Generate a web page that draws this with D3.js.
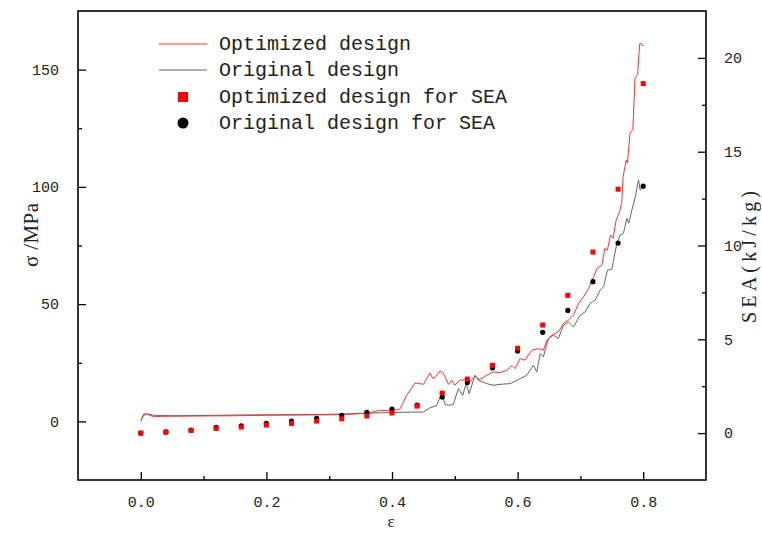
<!DOCTYPE html>
<html><head><meta charset="utf-8">
<script src="https://cdn.jsdelivr.net/npm/d3@7"></script>
<style>html,body{margin:0;padding:0;background:#fff;}</style>
</head><body>
<svg id="c" width="762" height="535"></svg>
<script>
// ---- data ----
const xTicks = [0, 0.2, 0.4, 0.6, 0.8];
const yLeftTicks = [0, 50, 100, 150];
const yRightTicks = [0, 5, 10, 15, 20];
const legendLabels = ["Optimized design", "Original design", "Optimized design for SEA", "Original design for SEA"];

const optStrain = [0,0.005,0.01,0.02,0.05,0.1,0.15,0.2,0.25,0.3,0.33,0.35,0.37,0.38,0.39,0.41,0.413,0.4234,0.4367,0.45,0.4606,0.465,0.47,0.4765,0.4818,0.49,0.495,0.5,0.508,0.516,0.524,0.532,0.54,0.551,0.561,0.572,0.583,0.591,0.596,0.604,0.612,0.6225,0.633,0.641,0.6465,0.6545,0.665,0.673,0.681,0.689,0.697,0.705,0.713,0.721,0.7265,0.734,0.739,0.743,0.748,0.752,0.757,0.7633,0.766,0.768,0.773,0.775,0.779,0.7835,0.787,0.791,0.7945,0.797,0.7995];
const optStress = [0.1,3.3,3.0,2.1,2.2,2.3,2.4,2.6,2.7,2.8,3.0,3.3,4.0,4.7,4.6,5.0,5.4,11.1,16.4,15.8,20.6,18.2,19.2,21.5,20.4,15.8,17.5,15.4,17.5,17.8,16.8,19.2,17.8,19.7,21.1,20.8,21.8,23.9,22.5,26.8,26.1,30.3,31.0,30.3,34.6,36.8,38.2,41.8,43.2,45.3,50.3,53.1,56.7,61.7,65.3,66.5,73.8,73.1,79.5,78.1,85.9,90.2,93.7,104.4,111.5,110.1,123.0,124.4,146.5,147.9,161.1,161.1,160.0];

const origStrain = [0,0.004,0.012,0.02,0.05,0.1,0.15,0.2,0.25,0.3,0.35,0.4,0.45,0.4606,0.471,0.479,0.4845,0.49,0.4977,0.5057,0.5126,0.518,0.523,0.532,0.5377,0.551,0.561,0.572,0.588,0.5935,0.604,0.6146,0.625,0.6306,0.6359,0.641,0.649,0.657,0.665,0.673,0.681,0.689,0.6996,0.7076,0.7155,0.7235,0.7315,0.737,0.743,0.75,0.758,0.7633,0.7686,0.774,0.777,0.782,0.787,0.7925,0.795,0.7995];
const origStress = [0.1,2.5,3.2,2.6,2.4,2.5,2.7,2.8,2.9,3.0,3.4,3.8,4.0,5.8,6.8,11.8,7.3,6.8,7.3,14.0,11.1,16.1,11.8,19.7,17.5,16.1,15.4,15.8,16.1,16.8,18.2,19.7,23.9,21.1,28.9,27.5,35.3,36.8,35.3,41.0,42.4,40.3,45.3,46.7,50.3,51.7,56.0,57.4,64.5,64.8,75.9,79.5,80.2,86.6,84.5,90.2,95.2,103.0,98.7,100.4];

const seaStrain = [0,0.04,0.08,0.12,0.16,0.2,0.24,0.28,0.32,0.36,0.4,0.44,0.48,0.52,0.56,0.6,0.64,0.68,0.72,0.76,0.8];
const seaOpt  = [0,0.05,0.14,0.25,0.32,0.43,0.52,0.64,0.76,0.91,1.07,1.44,2.13,2.88,3.61,4.52,5.76,7.34,9.65,13.0,18.63];
const seaOrig = [0,0.06,0.16,0.30,0.39,0.52,0.64,0.78,0.94,1.10,1.28,1.49,1.92,2.70,3.48,4.37,5.37,6.54,8.07,10.13,13.16];

// ---- layout ----
const L = 78, R = 706, T = 11, B = 480;
const svg = d3.select("#c");
const x = d3.scaleLinear().domain([-0.1, 0.9]).range([L, R]);
const yL = d3.scaleLinear().domain([-25, 175]).range([B, T]);
const yR = d3.scaleLinear().domain([-2.5, 22.5]).range([B, T]);
const tickFont = "'Liberation Mono', monospace";

// axes
function styleAxis(g){
  g.select(".domain").remove();
  g.selectAll("line").attr("stroke","#000").attr("stroke-width",1.3);
  g.selectAll("text").attr("font-family",tickFont).attr("font-size","15px").attr("fill","#222");
}
const xMinor = [0.1,0.3,0.5,0.7];
svg.append("g").attr("transform",`translate(0,${B})`)
  .call(d3.axisBottom(x).tickValues(xTicks).tickSizeInner(-8).tickSizeOuter(0).tickPadding(16).tickFormat(d3.format(".1f")))
  .call(styleAxis);
svg.append("g").attr("transform",`translate(0,${B})`)
  .call(d3.axisBottom(x).tickValues(xMinor).tickSizeInner(-4).tickSizeOuter(0).tickFormat(""))
  .call(styleAxis);
svg.append("g").attr("transform",`translate(${L},0)`)
  .call(d3.axisLeft(yL).tickValues(yLeftTicks).tickSizeInner(-8).tickSizeOuter(0).tickPadding(19))
  .call(styleAxis);
svg.append("g").attr("transform",`translate(${L},0)`)
  .call(d3.axisLeft(yL).tickValues([25,75,125]).tickSizeInner(-4).tickSizeOuter(0).tickFormat(""))
  .call(styleAxis);
svg.append("g").attr("transform",`translate(${R},0)`)
  .call(d3.axisRight(yR).tickValues(yRightTicks).tickSizeInner(-8).tickSizeOuter(0).tickPadding(18))
  .call(styleAxis);
svg.append("g").attr("transform",`translate(${R},0)`)
  .call(d3.axisRight(yR).tickValues([2.5,7.5,12.5,17.5]).tickSizeInner(-4).tickSizeOuter(0).tickFormat(""))
  .call(styleAxis);

// frame
svg.append("rect").attr("x",L).attr("y",T).attr("width",R-L).attr("height",B-T)
  .attr("fill","none").attr("stroke","#000").attr("stroke-width",1.6);

// lines
const line = d3.line().x(d=>x(d[0])).y(d=>yL(d[1]));
svg.append("path").datum(d3.zip(origStrain, origStress)).attr("d",line)
  .attr("fill","none").attr("stroke","#666").attr("stroke-width",1);
svg.append("path").datum(d3.zip(optStrain, optStress)).attr("d",line)
  .attr("fill","none").attr("stroke","#ff3030").attr("stroke-width",1);

// scatter
svg.append("g").selectAll("circle").data(d3.zip(seaStrain, seaOrig)).join("circle")
  .attr("cx",d=>x(d[0])).attr("cy",d=>yR(d[1])).attr("r",2.6).attr("fill","#000");
svg.append("g").selectAll("rect").data(d3.zip(seaStrain, seaOpt)).join("rect")
  .attr("x",d=>x(d[0])-2.5).attr("y",d=>yR(d[1])-2.5).attr("width",5).attr("height",5).attr("fill","#ff0000");

// axis titles
svg.append("text").attr("transform","translate(38,235) rotate(-90)").attr("text-anchor","middle")
  .attr("font-family","'Liberation Serif', serif").attr("font-size","21px").attr("fill","#222")
  .attr("textLength",64).attr("lengthAdjust","spacing").text("σ /MPa");
svg.append("text").attr("transform","translate(756,257) rotate(-90)").attr("text-anchor","middle")
  .attr("font-family","'Liberation Serif', serif").attr("font-size","20px").attr("fill","#222")
  .attr("textLength",132).attr("lengthAdjust","spacing").text("SEA(kJ/kg)");
svg.append("text").attr("x",391).attr("y",527).attr("text-anchor","middle")
  .attr("font-family","'Liberation Serif', serif").attr("font-size","17px").attr("fill","#222").text("ε");

// legend
const legY = [44, 70, 97, 123];
const lg = svg.append("g");
lg.append("line").attr("x1",159).attr("x2",207).attr("y1",legY[0]).attr("y2",legY[0]).attr("stroke","#ff3030").attr("stroke-width",1);
lg.append("line").attr("x1",159).attr("x2",207).attr("y1",legY[1]).attr("y2",legY[1]).attr("stroke","#666").attr("stroke-width",1);
lg.append("rect").attr("x",178).attr("y",legY[2]-5).attr("width",10).attr("height",10).attr("fill","#ff0000");
lg.append("circle").attr("cx",183).attr("cy",legY[3]).attr("r",5.5).attr("fill","#000");
lg.selectAll("text").data(legendLabels).join("text")
  .attr("x",219).attr("y",(d,i)=>legY[i]+6)
  .attr("font-family",tickFont).attr("font-size","20px").attr("fill","#222").text(d=>d);
</script>
</body></html>
